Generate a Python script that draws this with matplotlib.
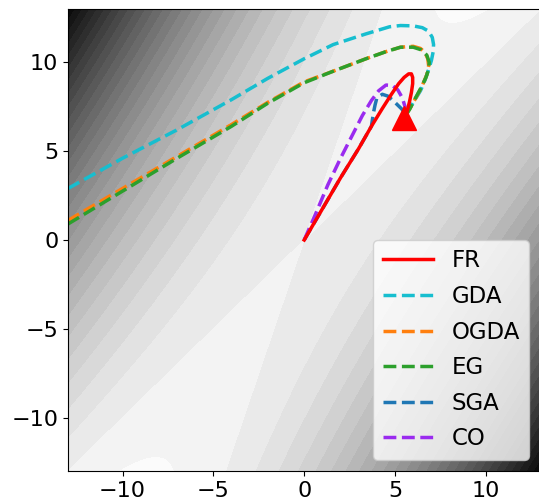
import numpy as np
import matplotlib
matplotlib.use('Agg')
import matplotlib.pyplot as plt

#%% data
# background surface f(x,y) = a*x^2 + b*y^2 + c*x*y
coef_xx, coef_yy, coef_xy = -3.0, -1.0, 4.0
lim = 13

target = (5.5, 6.85)

fr_x = [0, 1.0, 2.0, 3.0, 3.7, 4.3, 4.8, 5.2, 5.5, 5.75, 5.9, 5.97, 5.97, 5.9, 5.8, 5.68, 5.55]
fr_y = [0, 1.75, 3.5, 5.15, 6.4, 7.4, 8.2, 8.8, 9.15, 9.35, 9.35, 9.15, 8.8, 8.3, 7.8, 7.3, 6.9]

gda_x = [-13, -10, -7, -4, -2, 0, 1.6, 3.4, 4.7, 5.3, 6.0, 6.5, 6.85, 7.05, 7.12, 7.1, 7.0, 6.85, 6.65, 6.4, 6.1, 5.8, 5.5]
gda_y = [2.9, 4.6, 6.2, 7.9, 9.1, 10.2, 11.0, 11.6, 12.0, 12.07, 12.05, 11.95, 11.75, 11.4, 11.0, 10.6, 10.1, 9.6, 9.0, 8.4, 7.9, 7.4, 6.9]

ogda_x = [-13, -10, -7, -4, -2, 0, 1.6, 3.4, 4.5, 5.3, 6.0, 6.4, 6.65, 6.8, 6.85, 6.75, 6.5, 6.2, 5.85, 5.5]
ogda_y = [1.1, 2.9, 4.7, 6.5, 7.75, 8.9, 9.5, 10.2, 10.6, 10.85, 10.9, 10.78, 10.55, 10.2, 9.8, 9.3, 8.7, 8.1, 7.45, 6.9]

eg_x = [-13, -10, -7, -4, -2, 0, 1.6, 3.4, 4.5, 5.3, 6.0, 6.45, 6.75, 6.88, 6.85, 6.7, 6.45, 6.1, 5.8, 5.55]
eg_y = [0.9, 2.75, 4.6, 6.4, 7.7, 8.85, 9.5, 10.2, 10.6, 10.85, 10.85, 10.7, 10.4, 10.0, 9.6, 9.15, 8.6, 7.95, 7.35, 6.95]

sga_x = [0, 1.0, 2.0, 3.0, 3.7, 3.8, 3.9, 4.0, 4.3, 4.6, 4.9, 5.37, 5.6]
sga_y = [0, 1.75, 3.5, 5.15, 6.4, 7.1, 7.6, 8.0, 8.2, 8.1, 7.84, 7.37, 7.05]

co_x = [0, 0.6, 1.3, 2.0, 2.7, 3.2, 3.7, 4.1, 4.5, 4.85, 5.15, 5.4, 5.55, 5.55]
co_y = [0, 1.4, 3.1, 4.6, 6.0, 7.0, 7.85, 8.4, 8.72, 8.7, 8.45, 8.0, 7.5, 7.1]

#%% figure
fig = plt.figure(figsize=(5.39, 5.04), dpi=100)
ax = fig.add_axes([68 / 539, 33 / 504, 472.4 / 539, 462 / 504])

gx, gy = np.meshgrid(np.linspace(-lim, lim, 400), np.linspace(-lim, lim, 400))
gz = coef_xx * gx**2 + coef_yy * gy**2 + coef_xy * gx * gy
ax.contourf(gx, gy, gz, 30, cmap='gray')

lw = 2.5
h_gda, = ax.plot(gda_x, gda_y, '--', color='#17becf', lw=lw, label='GDA')
h_ogda, = ax.plot(ogda_x, ogda_y, '--', color='#ff7f0e', lw=lw, label='OGDA')
h_eg, = ax.plot(eg_x, eg_y, '--', color='#2ca02c', lw=lw, label='EG')
h_sga, = ax.plot(sga_x, sga_y, '--', color='#1f77b4', lw=lw, label='SGA')
h_co, = ax.plot(co_x, co_y, '--', color='#9a2bef', lw=lw, label='CO')
h_fr, = ax.plot(fr_x, fr_y, '-', color='red', lw=lw, label='FR')
ax.plot(target[0], target[1], '^', color='red', markersize=17, zorder=5)

ax.set_xlim(-lim, lim)
ax.set_ylim(-lim, lim)
ax.set_xticks([-10, -5, 0, 5, 10])
ax.set_yticks([-10, -5, 0, 5, 10])
ax.tick_params(labelsize=16)

ax.legend(handles=[h_fr, h_gda, h_ogda, h_eg, h_sga, h_co], loc='lower right',
          fontsize=16.5, handlelength=2.2, labelspacing=0.55)

fig.savefig('out.png', dpi=100)
